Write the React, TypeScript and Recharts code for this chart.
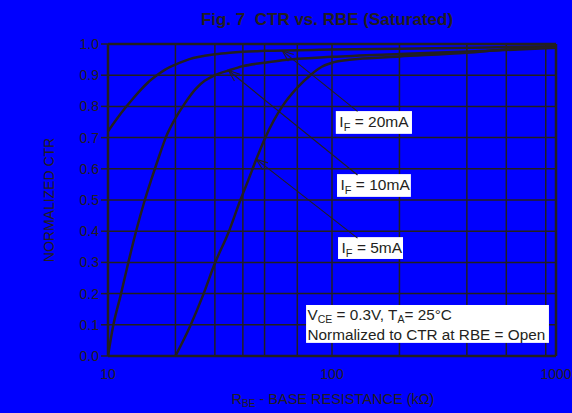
import React from 'react';
import {
  CartesianGrid,
  Line,
  LineChart,
  ReferenceArea,
  ReferenceLine,
  XAxis,
  YAxis,
} from 'recharts';

const INK = '#231f20';
const BLUE = '#0000ff';
const FONT = '"Liberation Sans", Arial, Helvetica, sans-serif';

// R_BE (kOhm) and normalized CTR
const rbe20 = [10, 11, 12, 13, 14, 15, 16.7, 18, 20, 22, 24, 27, 30, 35, 40, 50, 100, 200, 500, 1000];
const ctr20 = [0.72, 0.762, 0.797, 0.827, 0.853, 0.875, 0.902, 0.918, 0.934, 0.946, 0.955, 0.962, 0.967, 0.972, 0.975, 0.978, 0.982, 0.985, 0.989, 0.993];

const rbe10 = [10, 10.5, 11.4, 12.3, 13.3, 14.6, 15.6, 17, 18.1, 20, 21.8, 24.7, 27, 30, 34.8, 40, 50, 60, 100, 200, 500, 1000];
const ctr10 = [0, 0.09, 0.196, 0.297, 0.396, 0.5, 0.565, 0.645, 0.7, 0.762, 0.805, 0.857, 0.882, 0.9, 0.916, 0.929, 0.94, 0.948, 0.959, 0.968, 0.978, 0.988];

const rbe5 = [20, 23.2, 26.6, 30, 34.5, 39, 42, 46, 50, 55, 60, 70, 80, 90, 100, 115, 130, 200, 400, 600, 1000];
const ctr5 = [0, 0.094, 0.196, 0.297, 0.396, 0.5, 0.558, 0.632, 0.695, 0.755, 0.8, 0.86, 0.9, 0.927, 0.94, 0.948, 0.952, 0.96, 0.972, 0.982, 0.99];

const xTicks = [10, 100, 1000];
const yTicks = [0, 0.1, 0.2, 0.3, 0.4, 0.5, 0.6, 0.7, 0.8, 0.9, 1.0];
const xGrid = [20, 30, 40, 50, 60, 70, 80, 90, 100, 200, 300, 400, 500, 600, 700, 800, 900];
const yGrid = [0.1, 0.2, 0.3, 0.4, 0.5, 0.6, 0.7, 0.8, 0.9];

const series = [
  { name: '20mA', data: rbe20.map((r, i) => ({ r, v: ctr20[i] })) },
  { name: '10mA', data: rbe10.map((r, i) => ({ r, v: ctr10[i] })) },
  { name: '5mA', data: rbe5.map((r, i) => ({ r, v: ctr5[i] })) },
];

// callouts: arrow tip on the curve -> label box
const callouts = [
  { label: '20mA', tip: { x: 60, y: 0.978 }, end: { x: 130, y: 0.784 }, box: [104, 227.5, 0.712, 0.785] },
  { label: '10mA', tip: { x: 34.5, y: 0.915 }, end: { x: 130, y: 0.58 }, box: [105.3, 225, 0.51, 0.583] },
  { label: '5mA', tip: { x: 46, y: 0.63 }, end: { x: 130, y: 0.378 }, box: [106.4, 207.5, 0.311, 0.381] },
];

const Arrow = (p: any) => {
  const { x1, y1, x2, y2 } = p;
  const ang = Math.atan2(y2 - y1, x2 - x1);
  const L = 12;
  const a = 0.37;
  const ax = x1 + L * Math.cos(ang - a);
  const ay = y1 + L * Math.sin(ang - a);
  const bx = x1 + L * Math.cos(ang + a);
  const by = y1 + L * Math.sin(ang + a);
  return (
    <g>
      <line x1={x1} y1={y1} x2={x2} y2={y2} stroke={INK} strokeWidth={1.1} />
      <polyline points={`${ax},${ay} ${x1},${y1} ${bx},${by}`} fill="none" stroke={INK} strokeWidth={1.1} />
    </g>
  );
};

const makeIfBox = (label: string) => (p: any) => (
  <g>
    <rect x={p.x} y={p.y} width={p.width} height={p.height} fill="#ffffff" />
    <text x={p.x + 3.5} y={p.y + 15.7} fill={INK} fontSize={15.5} fontFamily={FONT}>
      <tspan>I</tspan>
      <tspan dy={4} fontSize={11}>F</tspan>
      <tspan dy={-4}>{` = ${label}`}</tspan>
    </text>
  </g>
);

const NoteBox = (p: any) => (
  <g>
    <rect x={p.x} y={p.y} width={p.width} height={p.height} fill="#ffffff" />
    <text x={p.x + 1.5} y={p.y + 15.3} fill={INK} fontSize={15.3} fontFamily={FONT}>
      <tspan>V</tspan>
      <tspan dy={3} fontSize={10.5}>CE</tspan>
      <tspan dy={-3}>{' = 0.3V, T'}</tspan>
      <tspan dy={3} fontSize={10.5}>A</tspan>
      <tspan dy={-3}>{'= 25°C'}</tspan>
    </text>
    <text x={p.x + 1.5} y={p.y + 34.8} fill={INK} fontSize={15.3} fontFamily={FONT}>
      Normalized to CTR at RBE = Open
    </text>
  </g>
);

export default function App() {
  const tickStyle = { fill: INK, fontSize: 14, fontFamily: FONT };
  return (
    <div style={{ position: 'absolute', left: 0, top: 0, width: 572, height: 413, background: BLUE }}>
      <LineChart width={572} height={413} margin={{ top: 44, right: 16, left: 0, bottom: 0 }}>
        <CartesianGrid
          stroke={INK}
          strokeWidth={1.5}
          horizontalValues={yGrid}
          verticalValues={xGrid}
        />
        <XAxis
          dataKey="r"
          type="number"
          scale="log"
          domain={[10, 1000]}
          ticks={xTicks}
          allowDataOverflow
          height={57}
          tickLine={false}
          tickSize={6}
          tickMargin={7}
          tick={tickStyle}
          axisLine={{ stroke: INK, strokeWidth: 2.5 }}
        />
        <YAxis
          type="number"
          domain={[0, 1]}
          ticks={yTicks}
          width={108}
          tickSize={7}
          tickMargin={2}
          tickFormatter={(v: number) => v.toFixed(1)}
          tick={tickStyle}
          tickLine={{ stroke: INK, strokeWidth: 1.5 }}
          axisLine={{ stroke: INK, strokeWidth: 2.5 }}
        />
        <ReferenceLine y={1} stroke={INK} strokeWidth={2.5} />
        <ReferenceLine x={1000} stroke={INK} strokeWidth={2.5} />
        {series.map((s) => (
          <Line
            key={s.name}
            data={s.data}
            dataKey="v"
            type="monotone"
            stroke={INK}
            strokeWidth={2.5}
            dot={false}
            isAnimationActive={false}
          />
        ))}
        {callouts.map((c) => (
          <ReferenceLine key={`a${c.label}`} segment={[c.tip, c.end]} shape={Arrow} />
        ))}
        {callouts.map((c) => (
          <ReferenceArea
            key={`b${c.label}`}
            x1={c.box[0]}
            x2={c.box[1]}
            y1={c.box[2]}
            y2={c.box[3]}
            shape={makeIfBox(c.label)}
          />
        ))}
        <ReferenceArea x1={76.6} x2={930} y1={0.042} y2={0.1635} shape={NoteBox} />
      </LineChart>
      <svg
        width={572}
        height={413}
        style={{ position: 'absolute', left: 0, top: 0, pointerEvents: 'none' }}
      >
        <text
          x={327}
          y={25}
          textAnchor="middle"
          fontSize={17}
          fontWeight="bold"
          fill={INK}
          fontFamily={FONT}
          style={{ whiteSpace: 'pre' }}
        >
          {'Fig. 7  CTR vs. RBE (Saturated)'}
        </text>
        <text
          x={54}
          y={200}
          textAnchor="middle"
          fontSize={14}
          fill={INK}
          fontFamily={FONT}
          transform="rotate(-90, 54, 200)"
        >
          NORMALIZED CTR
        </text>
        <text x={333} y={404} textAnchor="middle" fontSize={14.5} fill={INK} fontFamily={FONT}>
          <tspan>R</tspan>
          <tspan dy={3} fontSize={10}>BE</tspan>
          <tspan dy={-3}>{' - BASE RESISTANCE (kΩ)'}</tspan>
        </text>
      </svg>
    </div>
  );
}
